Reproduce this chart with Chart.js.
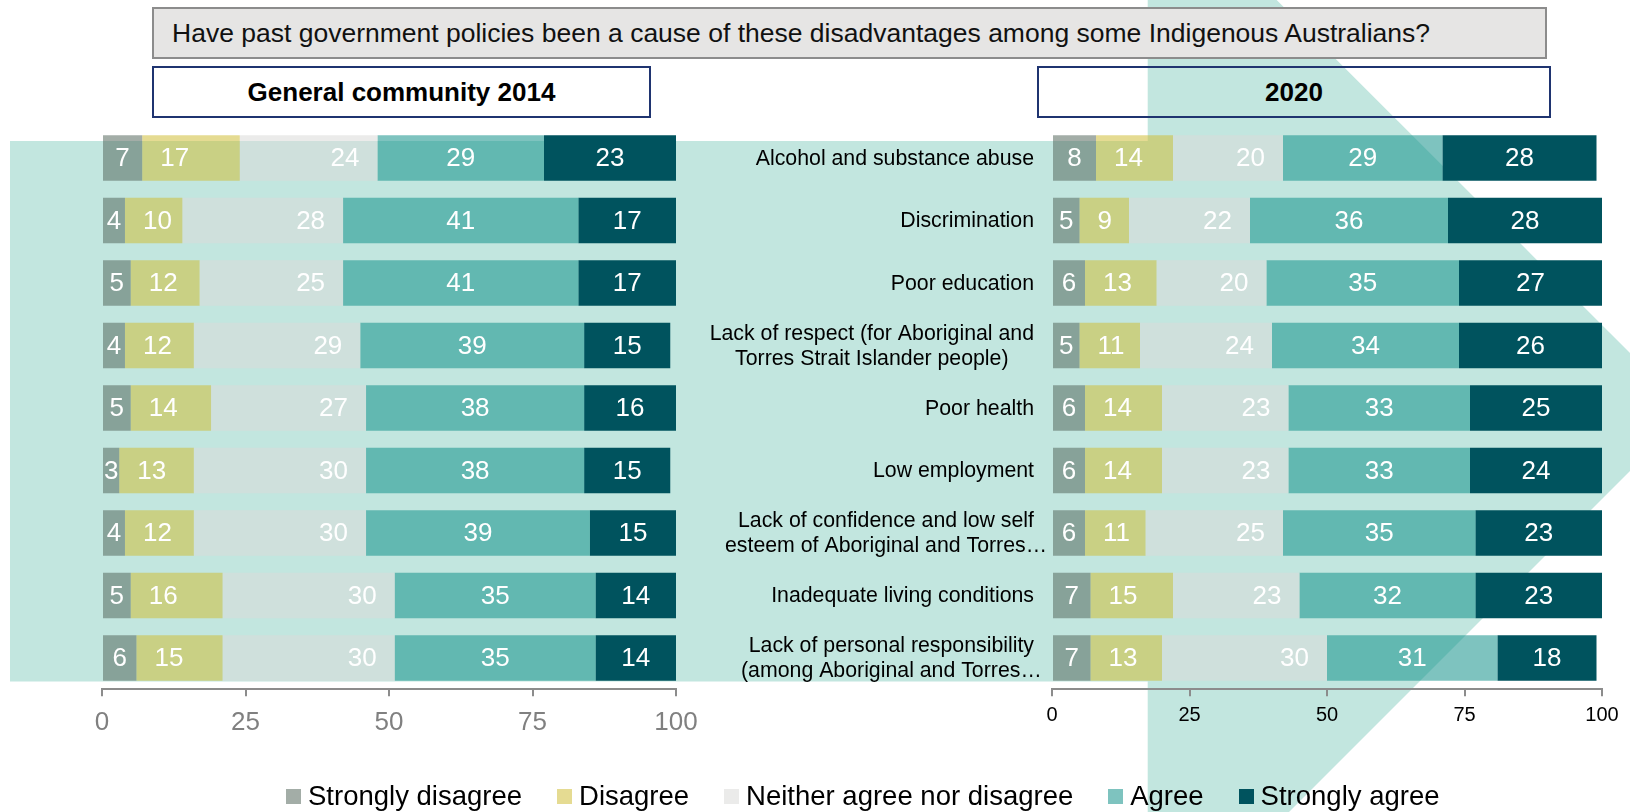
<!DOCTYPE html>
<html>
<head>
<meta charset="utf-8">
<title>Past government policies as a cause of disadvantage</title>
<script src="https://cdn.jsdelivr.net/npm/chart.js@4.4.0/dist/chart.umd.min.js"></script>
<style>
  html, body { margin: 0; padding: 0; background: #fff; }
  body { width: 1630px; height: 812px; position: relative; overflow: hidden;
         font-family: 'Liberation Sans', Arial, sans-serif; }
  #bg { position: absolute; left: 0; top: 0; }
  .title { position: absolute; left: 152px; top: 7px; width: 1395px; height: 52px; box-sizing: border-box;
           background: #e6e5e4; border: 2px solid #8c8c8c; font-size: 26.5px; line-height: 48px;
           padding-left: 18px; color: #111; white-space: nowrap; }
  .sub { position: absolute; top: 66px; height: 52px; box-sizing: border-box; border: 2px solid #1f3470;
         font-weight: bold; font-size: 26px; line-height: 48px; text-align: center; color: #000; }
  canvas { position: absolute; }
  #left { left: 0; top: 110px; }
  #right { left: 700px; top: 110px; }
  #legend { position: absolute; left: 286px; top: 780px; display: flex; font-size: 27.5px; line-height: 32px; color: #000; }
  #legend .item { display: flex; align-items: center; margin-right: 35px; white-space: nowrap; }
  #legend .box { width: 15px; height: 15px; margin-right: 7px; }
</style>
</head>
<body>
<svg id="bg" width="1630" height="812">
  <rect x="10" y="141" width="1150" height="540.5" fill="#c2e6df"/>
  <polygon points="1147.7,0 1276.7,0 1689,412 1289,812 1147.7,812" fill="#c2e6df"/>
</svg>
<div class="title">Have past government policies been a cause of these disadvantages among some Indigenous Australians?</div>
<div class="sub" style="left:152px; width:499px; background:#fff;">General community 2014</div>
<div class="sub" style="left:1037px; width:514px;">2020</div>
<canvas id="left" width="720" height="680"></canvas>
<canvas id="right" width="930" height="680"></canvas>
<div id="legend"></div>
<script>
const categories = [
  'Alcohol and substance abuse',
  'Discrimination',
  'Poor education',
  ['Lack of respect (for Aboriginal and', 'Torres Strait Islander people)'],
  'Poor health',
  'Low employment',
  ['Lack of confidence and low self', 'esteem of Aboriginal and Torres…'],
  'Inadequate living conditions',
  ['Lack of personal responsibility', '(among Aboriginal and Torres…']
];
const seriesNames = ['Strongly disagree', 'Disagree', 'Neither agree nor disagree', 'Agree', 'Strongly agree'];

const stronglyDisagree2014 = [7, 4, 5, 4, 5, 3, 4, 5, 6];
const disagree2014 = [17, 10, 12, 12, 14, 13, 12, 16, 15];
const neither2014 = [24, 28, 25, 29, 27, 30, 30, 30, 30];
const agree2014 = [29, 41, 41, 39, 38, 38, 39, 35, 35];
const stronglyAgree2014 = [23, 17, 17, 15, 16, 15, 15, 14, 14];

const stronglyDisagree2020 = [8, 5, 6, 5, 6, 6, 6, 7, 7];
const disagree2020 = [14, 9, 13, 11, 14, 14, 11, 15, 13];
const neither2020 = [20, 22, 20, 24, 23, 23, 25, 23, 30];
const agree2020 = [29, 36, 35, 34, 33, 33, 35, 32, 31];
const stronglyAgree2020 = [28, 28, 27, 26, 25, 24, 23, 23, 18];

const xTicks = [0, 25, 50, 75, 100];

// semi-transparent fills so the bars tint with the teal shapes behind them
const colors = ['rgba(87,106,94,0.55)', 'rgba(207,190,56,0.55)', 'rgba(218,219,217,0.55)', 'rgba(20,146,138,0.55)', '#00535e'];
const labelAlign = ['center', 'start', 'end', 'center', 'center'];
const FONT = "'Liberation Sans', Arial, sans-serif";

const barLabels = {
  id: 'barLabels',
  afterDatasetsDraw(chart) {
    const ctx = chart.ctx;
    const area = chart.chartArea;
    ctx.save();
    ctx.font = '26px ' + FONT;
    ctx.fillStyle = '#fff';
    ctx.textBaseline = 'middle';
    chart.data.datasets.forEach((ds, i) => {
      chart.getDatasetMeta(i).data.forEach((bar, j) => {
        const p = bar.getProps(['x', 'y', 'base'], true);
        const l = Math.min(p.x, p.base);
        const r = Math.min(Math.max(p.x, p.base), area.right);
        let tx;
        if (labelAlign[i] === 'start') { ctx.textAlign = 'left'; tx = l + 18; }
        else if (labelAlign[i] === 'end') { ctx.textAlign = 'right'; tx = r - 18; }
        else { ctx.textAlign = 'center'; tx = (l + r) / 2; }
        ctx.fillText(String(ds.data[j]), tx, p.y + 1);
      });
    });
    ctx.restore();
  }
};

// category names: block right-aligned to the bars, lines centred within the block
const categoryLabels = {
  id: 'categoryLabels',
  afterDraw(chart) {
    const ctx = chart.ctx;
    const yScale = chart.scales.y;
    const right = chart.chartArea.left - 18;
    ctx.save();
    ctx.font = '21.3px ' + FONT;
    ctx.fillStyle = '#000';
    ctx.textBaseline = 'middle';
    yScale.getLabels().forEach((lab, i) => {
      const yc = yScale.getPixelForValue(i);
      if (!Array.isArray(lab)) {
        ctx.textAlign = 'right';
        ctx.fillText(lab, right, yc + 1);
        return;
      }
      const cx = right - ctx.measureText(lab[0]).width / 2;
      ctx.textAlign = 'center';
      lab.forEach((line, k) => {
        ctx.fillText(line, cx, yc + 1 + (k - (lab.length - 1) / 2) * 25);
      });
    });
    ctx.restore();
  }
};

function makeDatasets(values) {
  return values.map((data, i) => ({
    label: seriesNames[i],
    data: data,
    backgroundColor: colors[i],
    borderWidth: 0,
    barPercentage: 1,
    categoryPercentage: 0.73
  }));
}

function makeChart(id, values, pad, tickFont, tickColor, tickPad, extraPlugins) {
  return new Chart(document.getElementById(id), {
    type: 'bar',
    data: { labels: categories, datasets: makeDatasets(values) },
    options: {
      indexAxis: 'y',
      responsive: false,
      animation: false,
      layout: { padding: pad },
      plugins: { legend: { display: false }, tooltip: { enabled: false } },
      scales: {
        x: {
          stacked: true,
          min: 0,
          max: 100,
          afterBuildTicks: s => { s.ticks = xTicks.map(v => ({ value: v })); },
          afterFit: s => { s.height = 60; },
          grid: { drawOnChartArea: false, drawTicks: true, tickLength: 7, color: '#8c8c8c', lineWidth: 2 },
          border: { display: true, color: '#8c8c8c', width: 2 },
          ticks: { font: { family: FONT, size: tickFont }, color: tickColor, padding: tickPad, maxRotation: 0 }
        },
        y: { stacked: true, display: false }
      }
    },
    plugins: [barLabels].concat(extraPlugins)
  });
}

makeChart('left',
  [stronglyDisagree2014, disagree2014, neither2014, agree2014, stronglyAgree2014],
  { left: 102, right: 44, top: 16.75, bottom: 40.75 }, 26, '#808080', 11, []);

makeChart('right',
  [stronglyDisagree2020, disagree2020, neither2020, agree2020, stronglyAgree2020],
  { left: 352, right: 28, top: 16.75, bottom: 40.75 }, 20, '#000', 7, [categoryLabels]);

const legend = document.getElementById('legend');
seriesNames.forEach((name, i) => {
  const item = document.createElement('div');
  item.className = 'item';
  const box = document.createElement('span');
  box.className = 'box';
  box.style.background = colors[i];
  item.appendChild(box);
  item.appendChild(document.createTextNode(name));
  legend.appendChild(item);
});
</script>
</body>
</html>
